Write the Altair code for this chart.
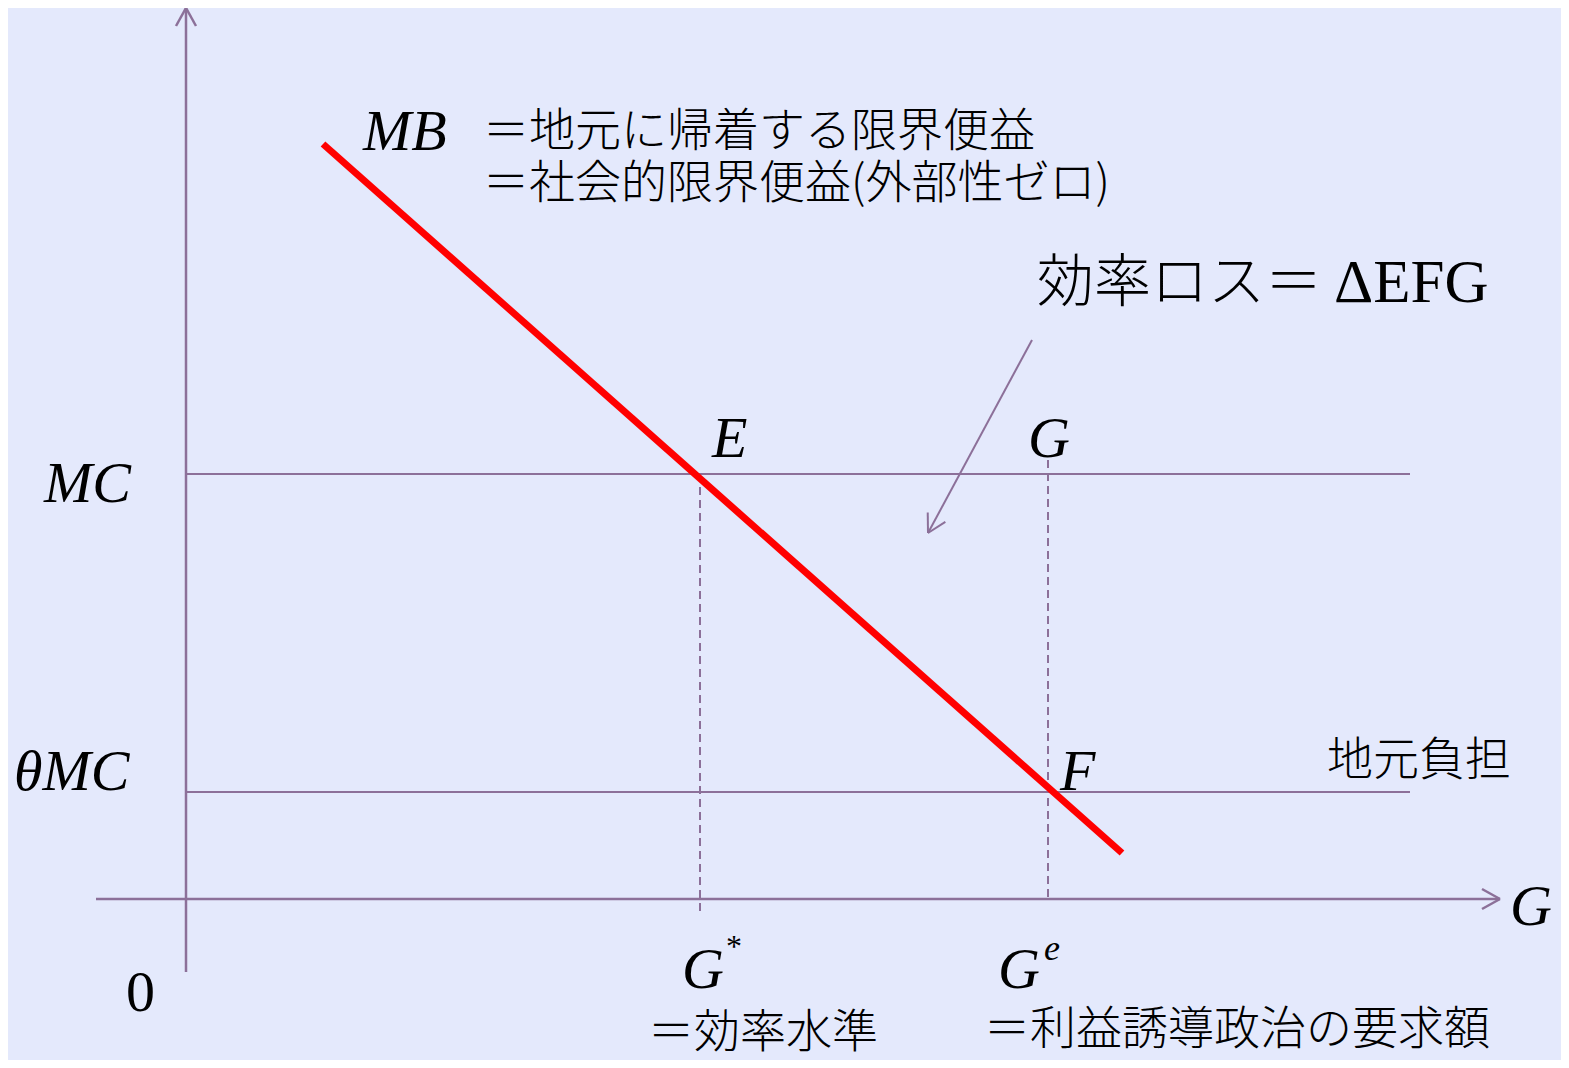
import altair as alt
import pandas as pd
import numpy as np

# ---- values (diagram units: origin at the axes' crossing) ----
MC = 4.25
THETA_MC = 1.07
G_STAR = 5.14
G_E = 8.62
MB_X = [1.37, 9.36]
MB_Y = [7.55, 0.46]
Y_AXIS = [-0.73, 8.91]      # vertical axis extent
X_AXIS = [-0.90, 13.14]     # horizontal axis extent
H_END = 12.24               # right end of MC / θMC lines
ARROW_FROM = (8.46, 5.59)
ARROW_TO = (7.42, 3.66)

XDOM = [-1.78, 13.75]
YDOM = [-1.61, 8.91]

PURPLE = "#8C7099"
RED = "#FF0000"
BG = "#E4E9FC"
SERIF = "Liberation Serif"
JP = "Noto Sans CJK JP"

x_sc = alt.Scale(domain=XDOM, nice=False, zero=False)
y_sc = alt.Scale(domain=YDOM, nice=False, zero=False)


def seg_layer(df, **kw):
    return alt.Chart(df).mark_rule(**kw).encode(
        x=alt.X("x:Q", scale=x_sc, axis=None),
        y=alt.Y("y:Q", scale=y_sc, axis=None),
        x2="x2:Q", y2="y2:Q")


def wings(tip, frm, L=0.18, W=0.10):
    t = np.array(tip, float); f = np.array(frm, float)
    d = (t - f) / np.linalg.norm(t - f)
    n = np.array([d[1], -d[0]])
    base = t - L * d
    out = []
    for s in (1, -1):
        w = base + s * W * n
        out.append(dict(x=t[0], y=t[1], x2=w[0], y2=w[1]))
    return out


axes = pd.DataFrame([
    dict(x=0, y=Y_AXIS[0], x2=0, y2=Y_AXIS[1]),
    dict(x=X_AXIS[0], y=0, x2=X_AXIS[1], y2=0),
] + wings((0, Y_AXIS[1]), (0, Y_AXIS[0])) + wings((X_AXIS[1], 0), (X_AXIS[0], 0)))

hlines = pd.DataFrame([
    dict(x=0, y=MC, x2=H_END, y2=MC),
    dict(x=0, y=THETA_MC, x2=H_END, y2=THETA_MC),
])

dashed = pd.DataFrame([
    dict(x=G_STAR, y=MC, x2=G_STAR, y2=-0.12),
    dict(x=G_E, y=4.39, x2=G_E, y2=0),
])

arrow = pd.DataFrame([
    dict(x=ARROW_FROM[0], y=ARROW_FROM[1], x2=ARROW_TO[0], y2=ARROW_TO[1]),
] + wings(ARROW_TO, ARROW_FROM))

mb = pd.DataFrame([dict(x=MB_X[0], y=MB_Y[0], x2=MB_X[1], y2=MB_Y[1])])

# text labels: (text, x, y, font, size, style, weight)
labels = [
    ("MB", 1.77, 7.49, SERIF, 58, "italic", 400),
    ("E", 5.26, 4.42, SERIF, 58, "italic", 400),
    ("G", 8.42, 4.42, SERIF, 58, "italic", 400),
    ("MC", -1.42, 3.97, SERIF, 58, "italic", 400),
    ("θMC", -1.72, 1.09, SERIF, 58, "italic", 400),
    ("F", 8.74, 1.09, SERIF, 58, "italic", 400),
    ("G", 13.24, -0.26, SERIF, 58, "italic", 400),
    ("G", 4.96, -0.89, SERIF, 58, "italic", 400),
    ("G", 8.12, -0.89, SERIF, 58, "italic", 400),
    ("e", 8.58, -0.61, SERIF, 36, "italic", 400),
    ("*", 5.40, -0.58, SERIF, 32, "normal", 400),
    ("0", -0.60, -1.12, SERIF, 58, "normal", 400),
    ("ΔEFG", 11.48, 5.97, SERIF, 61, "normal", 400),
    ("＝地元に帰着する限界便益", 2.97, 7.53, JP, 46, "normal", 300),
    ("＝社会的限界便益(外部性ゼロ)", 2.97, 7.01, JP, 46, "normal", 300),
    ("効率ロス＝", 8.51, 5.98, JP, 57, "normal", 300),
    ("地元負担", 11.41, 1.24, JP, 46, "normal", 300),
    ("＝効率水準", 4.62, -1.48, JP, 46, "normal", 300),
    ("＝利益誘導政治の要求額", 7.98, -1.45, JP, 46, "normal", 300),
]

text_layers = []
for t, x, y, font, size, style, weight in labels:
    df = pd.DataFrame([dict(label=t, x=x, y=y)])
    text_layers.append(
        alt.Chart(df).mark_text(align="left", baseline="alphabetic", font=font,
                                fontSize=size, fontStyle=style, fontWeight=weight,
                                color="black").encode(
            x=alt.X("x:Q", scale=x_sc, axis=None),
            y=alt.Y("y:Q", scale=y_sc, axis=None),
            text="label:N"))

chart = alt.layer(
    seg_layer(hlines, color=PURPLE, strokeWidth=2),
    seg_layer(dashed, color=PURPLE, strokeWidth=2, strokeDash=[8, 5]),
    seg_layer(axes, color=PURPLE, strokeWidth=2.5),
    seg_layer(arrow, color=PURPLE, strokeWidth=2),
    seg_layer(mb, color=RED, strokeWidth=7, strokeCap="butt"),
    *text_layers,
).properties(
    width=1553, height=1052,
    autosize=alt.AutoSizeParams(type="none"),
    padding=0,
    background=BG,
).configure_view(stroke=None)

chart.save("out.html", embed_options={"renderer": "svg", "actions": False})
